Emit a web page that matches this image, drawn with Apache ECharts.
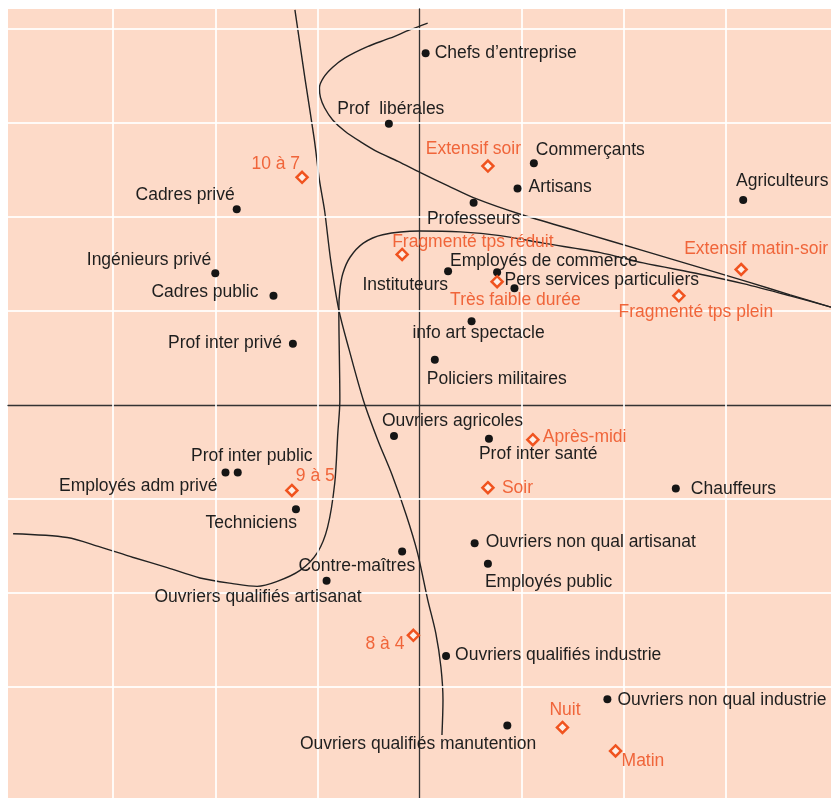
<!DOCTYPE html>
<html><head><meta charset="utf-8">
<script src="https://cdn.jsdelivr.net/npm/echarts@6/dist/echarts.min.js"></script>
<style>html,body{margin:0;padding:0;background:#fff}#chart{width:831px;height:798px}</style>
</head><body><div id="chart"></div>
<script>
// ---- data (factor-map coordinates; one grid cell = 1 unit) ----
const occupationNames = [
  'Chefs d’entreprise','Prof  libérales','Commerçants','Artisans','Agriculteurs','Professeurs',
  'Cadres privé','Ingénieurs privé','Cadres public','Instituteurs','Employés de commerce',
  'Pers services particuliers','Prof inter privé','info art spectacle','Policiers militaires',
  'Ouvriers agricoles','Prof inter santé','Prof inter public','Employés adm privé','Techniciens',
  'Chauffeurs','Ouvriers non qual artisanat','Contre-maîtres','Employés public',
  'Ouvriers qualifiés artisanat','Ouvriers qualifiés industrie','Ouvriers non qual industrie',
  'Ouvriers qualifiés manutention'
];
const occupationX = [0.06,-0.30,1.12,0.96,3.17,0.53,-1.79,-2.00,-1.43,0.28,0.76,0.93,-1.24,0.51,0.15,
  -0.25,0.68,-1.78,-1.90,-1.21,2.51,0.54,-0.17,0.67,-0.91,0.26,1.84,0.86];
const occupationY = [3.74,2.99,2.57,2.30,2.18,2.15,2.08,1.40,1.16,1.42,1.41,1.24,0.65,0.89,0.48,
  -0.33,-0.36,-0.72,-0.72,-1.11,-0.89,-1.47,-1.56,-1.69,-1.87,-2.67,-3.13,-3.41];

const scheduleNames = ['10 à 7','Extensif soir','Fragmenté tps réduit','Très faible durée',
  'Extensif matin-soir','Fragmenté tps plein','Après-midi','9 à 5','Soir','8 à 4','Nuit','Matin'];
const scheduleX = [-1.15,0.67,-0.17,0.76,3.15,2.54,1.11,-1.25,0.67,-0.06,1.40,1.92];
const scheduleY = [2.42,2.54,1.60,1.31,1.44,1.16,-0.37,-0.91,-0.88,-2.45,-3.43,-3.68];

const curveVertical = [[-1.22,4.20],[-1.12,3.46],[-1.03,2.82],[-0.98,2.39],[-0.93,2.07],[-0.87,1.54],
  [-0.79,1.01],[-0.69,0.59],[-0.55,0.05],[-0.41,-0.37],[-0.27,-0.74],[-0.13,-1.17],[-0.02,-1.57],
  [0.08,-2.07],[0.16,-2.43],[0.21,-2.79],[0.23,-3.14],[0.22,-3.51]];
const curveU = [[-3.98,-1.37],[-3.45,-1.41],[-3.13,-1.51],[-2.81,-1.62],[-2.47,-1.73],[-2.15,-1.84],
  [-1.83,-1.90],[-1.59,-1.93],[-1.40,-1.88],[-1.17,-1.76],[-1.00,-1.57],[-0.90,-1.30],[-0.83,-0.83],
  [-0.80,-0.30],[-0.78,0.05],[-0.79,1.01],[-0.78,1.22],[-0.75,1.40],[-0.68,1.57],[-0.55,1.72],
  [-0.36,1.81],[0.00,1.85],[0.40,1.84],[0.79,1.80],[1.21,1.72],[1.77,1.62],[2.19,1.51],[2.75,1.39],
  [3.17,1.29],[3.63,1.16],[4.03,1.04]];
const curveTop = [[0.08,4.06],[-0.09,3.99],[-0.29,3.90],[-0.51,3.81],[-0.73,3.69],[-0.85,3.59],
  [-0.94,3.48],[-0.98,3.37],[-0.97,3.27],[-0.93,3.16],[-0.85,3.03],[-0.73,2.91],[-0.58,2.80],
  [-0.41,2.69],[-0.21,2.59],[0.01,2.47],[0.28,2.33],[0.56,2.19],[0.98,2.03],[1.57,1.84],[2.19,1.64],
  [2.75,1.46],[3.24,1.30],[3.63,1.17],[4.03,1.04]];

const gridXValues = [-3,-2,-1,1,2,3];
const gridYValues = [-3,-2,-1,1,2,3,4];

// ---- label placement (style, not data): [dx, dy, align] ----
const labelPlacement = {
  'Chefs d’entreprise':[9,0,'left'], 'Prof  libérales':[2,-15,'center'], 'Commerçants':[2,-13.5,'left'],
  'Artisans':[11,-1.5,'left'], 'Agriculteurs':[39,-18.5,'center'], 'Professeurs':[0,16.5,'center'],
  'Cadres privé':[-2,-14.5,'right'], 'Ingénieurs privé':[-4,-13.5,'right'], 'Cadres public':[-15,-3.5,'right'],
  'Instituteurs':[0,13.5,'right'], 'Employés de commerce':[-47,-11.5,'left'],
  'Pers services particuliers':[-10,-8,'left'], 'Prof inter privé':[-11,-1,'right'],
  'info art spectacle':[7,11.5,'center'], 'Policiers militaires':[-8,19,'left'],
  'Ouvriers agricoles':[-12,-15,'left'], 'Prof inter santé':[-10,15.5,'left'],
  'Prof inter public':[14,-16.5,'center'], 'Employés adm privé':[-8,13.5,'right'], 'Techniciens':[1,13.5,'right'],
  'Chauffeurs':[15,0.5,'left'], 'Ouvriers non qual artisanat':[11,-0.5,'left'], 'Contre-maîtres':[13,14.5,'right'],
  'Employés public':[-3,18.5,'left'], 'Ouvriers qualifiés artisanat':[35,16.5,'right'],
  'Ouvriers qualifiés industrie':[9,-1,'left'], 'Ouvriers non qual industrie':[10,0.5,'left'],
  'Ouvriers qualifiés manutention':[29,19,'right'],
  '10 à 7':[-2,-13.5,'right'], 'Extensif soir':[-14.5,-16.5,'center'], 'Fragmenté tps réduit':[-10,-12.5,'left'],
  'Très faible durée':[-47,18.5,'left'], 'Extensif matin-soir':[15,-20,'center'],
  'Fragmenté tps plein':[17,16,'center'], 'Après-midi':[10,-2.5,'left'], '9 à 5':[4,-14.5,'left'],
  'Soir':[14,0.5,'left'], '8 à 4':[-9,8.5,'right'], 'Nuit':[2.5,-17.5,'center'], 'Matin':[6,10.5,'left']
};

const FONT = "'Liberation Sans', Arial, Helvetica, sans-serif";
const FS = 17.5;

function items(names, xs, ys) {
  return names.map((n, i) => {
    const p = labelPlacement[n];
    return { name: n, value: [xs[i], ys[i]], label: { offset: [p[0], p[1]], align: p[2] } };
  });
}

const curveStyle = { color: '#222222', width: 1.4 };
function curve(d) {
  return { type: 'line', data: d, smooth: 0.3, showSymbol: false, symbol: 'none', silent: true,
    lineStyle: curveStyle, z: 3, animation: false, clip: true };
}

const chart = echarts.init(document.getElementById('chart'), null, { renderer: 'canvas' });
chart.setOption({
  animation: false,
  grid: { left: 8, right: 0, top: 9, bottom: 0, show: true, backgroundColor: '#fddac8', borderWidth: 0 },
  xAxis: { type: 'value', min: -4.03, max: 4.03, z: 2,
    axisLine: { onZero: true, lineStyle: { color: '#333333', width: 1.3 } },
    axisTick: { show: false }, axisLabel: { show: false }, splitLine: { show: false } },
  yAxis: { type: 'value', min: -4.18, max: 4.21, z: 2,
    axisLine: { onZero: true, lineStyle: { color: '#333333', width: 1.3 } },
    axisTick: { show: false }, axisLabel: { show: false }, splitLine: { show: false } },
  series: [
    { type: 'scatter', data: [], z: 1, silent: true,
      markLine: { silent: true, symbol: ['none', 'none'], label: { show: false }, animation: false,
        lineStyle: { color: '#ffffff', width: 2, type: 'solid', opacity: 0.85 },
        emphasis: { disabled: true },
        data: gridXValues.map(v => ({ xAxis: v })).concat(gridYValues.map(v => ({ yAxis: v }))) } },
    curve(curveVertical), curve(curveU), curve(curveTop),
    { type: 'scatter', data: items(occupationNames, occupationX, occupationY), symbol: 'circle', symbolSize: 8,
      itemStyle: { color: '#151515', opacity: 1 }, z: 5, silent: true,
      label: { show: true, position: 'inside', verticalAlign: 'middle', formatter: '{b}',
        color: '#1e1e1e', fontSize: FS, fontFamily: FONT } },
    { type: 'scatter', data: items(scheduleNames, scheduleX, scheduleY), symbol: 'diamond', symbolSize: 11,
      itemStyle: { color: '#fdeee6', borderColor: '#f0531f', borderWidth: 2.5, opacity: 1 }, z: 5, silent: true,
      label: { show: true, position: 'inside', verticalAlign: 'middle', formatter: '{b}',
        color: '#f0653a', fontSize: FS, fontFamily: FONT } }
  ]
});
</script></body></html>
